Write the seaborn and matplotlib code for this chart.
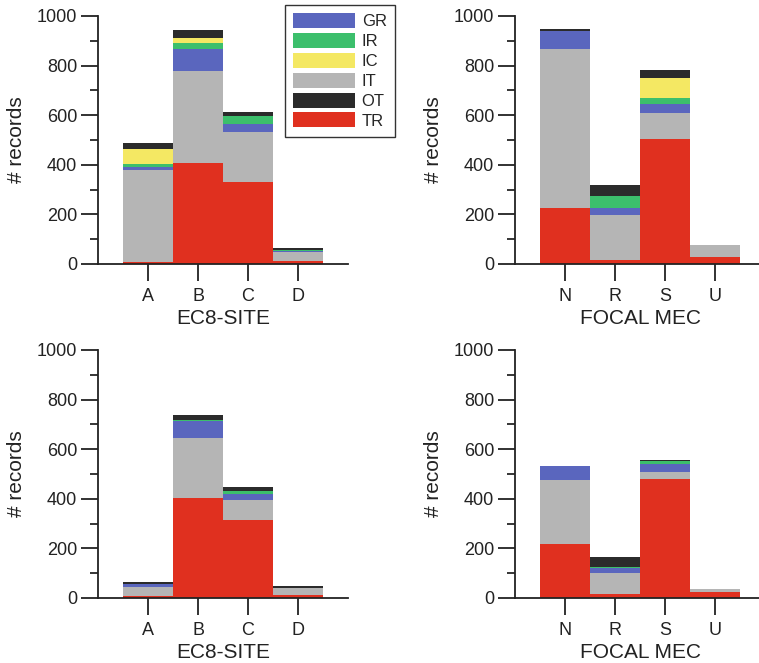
import numpy as np
import pandas as pd
import matplotlib
matplotlib.use("Agg")
import matplotlib.pyplot as plt
import seaborn as sns
from matplotlib.patches import Patch
from matplotlib.ticker import MultipleLocator

sns.set_style("ticks")
plt.rcParams['font.family'] = ['Liberation Sans', 'DejaVu Sans']

# record classes, stacked bottom -> top
classes = ["TR", "IT", "GR", "IR", "IC", "OT"]
legend_order = ["GR", "IR", "IC", "IT", "OT", "TR"]
colors = {"GR": "#5A66BE", "IR": "#3CBF6C", "IC": "#F4E863",
          "IT": "#B5B5B5", "OT": "#2B2B2B", "TR": "#E0301F"}

site_cats = ["A", "B", "C", "D"]
mec_cats = ["N", "R", "S", "U"]

# top row
site_top = {"TR": [9, 409, 329, 14], "IT": [370, 370, 205, 36],
            "GR": [13, 87, 31, 2], "IR": [13, 24, 32, 6],
            "IC": [59, 20, 0, 0], "OT": [22, 33, 17, 8]}
mec_top = {"TR": [227, 17, 503, 28], "IT": [639, 182, 105, 50],
           "GR": [72, 28, 39, 0], "IR": [0, 47, 24, 0],
           "IC": [0, 0, 80, 0], "OT": [8, 46, 31, 0]}
# bottom row
site_bot = {"TR": [8, 404, 314, 14], "IT": [38, 240, 80, 28],
            "GR": [11, 70, 26, 0], "IR": [0, 4, 13, 0],
            "IC": [0, 0, 0, 0], "OT": [9, 20, 14, 5]}
mec_bot = {"TR": [218, 16, 478, 24], "IT": [256, 84, 32, 14],
           "GR": [60, 22, 30, 0], "IR": [0, 4, 11, 0],
           "IC": [0, 0, 0, 0], "OT": [0, 41, 7, 0]}


def to_long(cats, vals):
    rows = []
    for cls in classes:
        for c, n in zip(cats, vals[cls]):
            rows.append({"cat": c, "cls": cls, "n": n})
    return pd.DataFrame(rows)


def draw_panel(ax, cats, vals, xlabel):
    df = to_long(cats, vals)
    # seaborn stacks the last hue level at the bottom
    sns.histplot(data=df, x="cat", weights="n", hue="cls",
                 hue_order=classes[::-1], palette=colors,
                 multiple="stack", discrete=True, shrink=1,
                 linewidth=0, alpha=1, legend=False, ax=ax)
    ax.set_xlim(-1, 4)
    ax.set_ylim(0, 1000)
    ax.yaxis.set_major_locator(MultipleLocator(200))
    ax.yaxis.set_minor_locator(MultipleLocator(100))
    ax.tick_params(axis="both", which="major", direction="out", length=12,
                   width=1.3, labelsize=13, colors="#222222", pad=3)
    ax.tick_params(axis="y", which="minor", direction="out", length=6, width=1.3)
    ax.tick_params(axis="x", which="major", pad=5)
    for s in ["top", "right"]:
        ax.spines[s].set_visible(False)
    for s in ["left", "bottom"]:
        ax.spines[s].set_linewidth(1.3)
        ax.spines[s].set_color("#222222")
    ax.set_xlabel(xlabel, fontsize=15, color="#222222", labelpad=3)
    ax.set_ylabel("# records", fontsize=15, color="#222222", labelpad=8)


fig = plt.figure(figsize=(7.59, 6.63), dpi=100)
W, H = 759, 663
ax_w, ax_h = 250 / W, 248 / H
ax_tl = fig.add_axes([98 / W, 1 - 264 / H, ax_w, ax_h])
ax_tr = fig.add_axes([515 / W, 1 - 264 / H, ax_w, ax_h])
ax_bl = fig.add_axes([98 / W, 1 - 598 / H, ax_w, ax_h])
ax_br = fig.add_axes([515 / W, 1 - 598 / H, ax_w, ax_h])

draw_panel(ax_tl, site_cats, site_top, "EC8-SITE")
draw_panel(ax_tr, mec_cats, mec_top, "FOCAL MEC")
draw_panel(ax_bl, site_cats, site_bot, "EC8-SITE")
draw_panel(ax_br, mec_cats, mec_bot, "FOCAL MEC")

handles = [Patch(facecolor=colors[c], edgecolor="none", label=c) for c in legend_order]
leg = fig.legend(handles=handles, loc="upper left",
                 bbox_to_anchor=(285 / W, 1 - 5 / H), borderaxespad=0,
                 fontsize=12, handlelength=3.7, handleheight=1.0,
                 handletextpad=0.4, labelspacing=0.22, borderpad=0.5,
                 fancybox=False, framealpha=1)
leg.get_frame().set_edgecolor("#333333")
leg.get_frame().set_linewidth(1.0)

fig.savefig("out.png", dpi=100)
